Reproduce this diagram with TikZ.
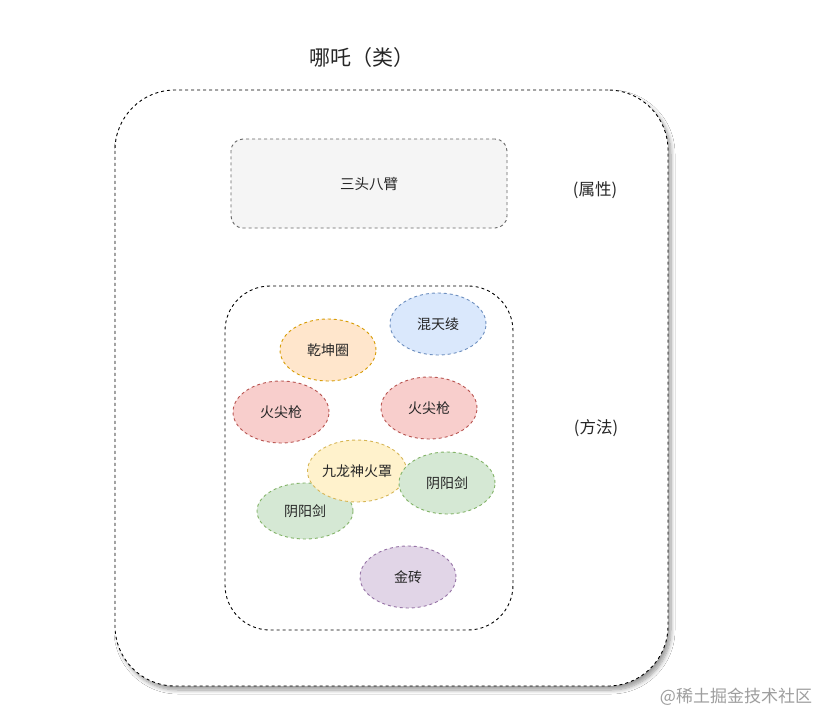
\documentclass[tikz,border=0pt]{standalone}
\usepackage{fontspec}
\setmainfont{Noto Sans CJK SC}
\usetikzlibrary{shapes.geometric,shadows.blur}
\definecolor{bluef}{HTML}{DAE8FC}\definecolor{blued}{HTML}{6C8EBF}
\definecolor{orangef}{HTML}{FFE6CC}\definecolor{oranged}{HTML}{D79B00}
\definecolor{redf}{HTML}{F8CECC}\definecolor{redd}{HTML}{B85450}
\definecolor{yellowf}{HTML}{FFF2CC}\definecolor{yellowd}{HTML}{D6B656}
\definecolor{greenf}{HTML}{D5E8D4}\definecolor{greend}{HTML}{82B366}
\definecolor{purplef}{HTML}{E1D5E7}\definecolor{purpled}{HTML}{9673A6}
\definecolor{grayf}{HTML}{F5F5F5}\definecolor{grayd}{HTML}{666666}
\tikzset{
  dsh/.style={dash pattern=on 3pt off 3pt, line width=0.9pt},
  item/.style={ellipse, draw=#1d, fill=#1f, dsh, minimum width=96pt, minimum height=62pt, inner sep=0pt, font=\fontsize{14}{14}\selectfont, text=black!85},
  lbl/.style={font=\fontsize{16.5}{16.5}\selectfont, text=black!85},
}
\begin{document}
\begin{tikzpicture}[x=1pt,y=-1pt]
\useasboundingbox (0,0) rectangle (823,718);
\fill[white] (0,0) rectangle (823,718);
% outer class box
\node (outer) [draw=black, dsh, rounded corners=60pt, fill=white, minimum width=553pt, minimum height=596pt, blur shadow={shadow xshift=3pt, shadow yshift=-4pt, shadow blur steps=8, shadow opacity=40, shadow blur extra rounding=3pt, shadow blur radius=4pt}] at (391.5,388) {};
\node (title) [font=\fontsize{21}{21}\selectfont, text=black!85] at (362,58) {哪吒（类）};
% attributes box
\node (attr) [draw=grayd, fill=grayf, dsh, rounded corners=12pt, minimum width=276pt, minimum height=89pt, font=\fontsize{14.5}{14.5}\selectfont, text=black!85] at (369,183.5) {三头八臂};
\node (attrlbl) [lbl] at (595,190) {(属性)};
% methods box
\node (meth) [draw=black, dsh, rounded corners=45pt, minimum width=288pt, minimum height=344pt] at (369,458) {};
\node (methlbl) [lbl] at (596,428) {(方法)};
% ellipses
\node (hun) [item=blue] at (438,324) {混天绫};
\node (qian) [item=orange] at (328,350) {乾坤圈};
\node (huoL) [item=red] at (281,412) {火尖枪};
\node (huoR) [item=red] at (429,408) {火尖枪};
\node (yinL) [item=green, minimum height=56pt] at (305,511) {阴阳剑};
\node (jiu) [item=yellow] at (357,471) {九龙神火罩};
\node (yinR) [item=green] at (447,483) {阴阳剑};
\node (jin) [item=purple] at (408,577) {金砖};
% watermark
\node (wm) [font=\fontsize{17}{17}\selectfont, text=black!38] at (736,697) {@稀土掘金技术社区};
\end{tikzpicture}
\end{document}
